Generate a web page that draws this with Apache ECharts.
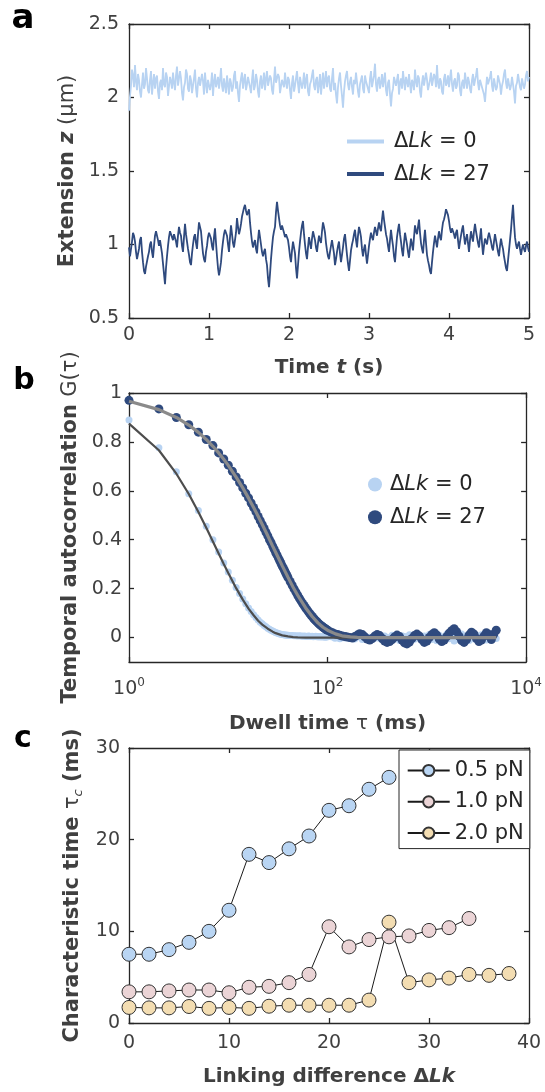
<!DOCTYPE html>
<html>
<head>
<meta charset="utf-8">
<script src="https://cdn.jsdelivr.net/npm/echarts@6.0.0/dist/echarts.min.js"></script>
<style>
  html, body { margin: 0; padding: 0; background: #fff; }
  #root { width: 545px; height: 1092px; }
</style>
</head>
<body>
<div id="root"></div>
<script>
// ---- panel a: extension traces, one sample every 12.5 ms ----
const timeStep = 0.0125;
const zLk0 = [
  1.91, 2.01, 2.08, 2.19, 2.15, 2.07, 2.22, 2.11, 2.05, 2.16, 2.12, 2.04, 2.00, 2.09, 2.17, 2.06, 2.09, 2.20, 2.13, 2.05,
  2.03, 2.12, 2.18, 2.02, 2.10, 2.16, 2.06, 2.13, 2.15, 2.04, 1.99, 2.10, 2.12, 2.05, 2.20, 2.09, 2.07, 2.17, 2.14, 2.01,
  2.02, 2.14, 2.11, 2.06, 2.17, 2.10, 2.05, 2.15, 2.21, 2.08, 2.09, 2.18, 2.13, 2.03, 1.98, 2.07, 2.10, 2.19, 2.16, 2.06,
  2.04, 2.15, 2.12, 2.03, 2.08, 2.13, 2.19, 2.06, 2.00, 2.10, 2.14, 2.08, 2.07, 2.16, 2.11, 2.02, 2.17, 2.09, 2.03, 2.12,
  2.13, 2.05, 2.09, 2.17, 2.01, 2.11, 2.16, 2.07, 2.10, 2.14, 2.06, 2.12, 2.20, 2.08, 2.04, 2.13, 2.12, 2.03, 2.15, 2.09,
  2.02, 2.13, 2.10, 2.04, 2.07, 2.15, 2.18, 2.06, 2.11, 2.03, 1.97, 2.08, 2.13, 2.17, 2.06, 2.12, 2.16, 2.05, 2.09, 2.14,
  2.14, 2.07, 2.03, 2.12, 2.19, 2.05, 2.08, 2.16, 2.12, 2.04, 2.00, 2.11, 2.15, 2.06, 2.10, 2.17, 2.05, 2.13, 2.18, 2.08,
  2.07, 2.15, 2.13, 2.05, 2.02, 2.12, 2.21, 2.10, 2.09, 2.16, 2.14, 2.03, 2.04, 2.12, 2.11, 2.07, 2.17, 2.10, 2.06, 2.14,
  2.12, 2.05, 1.99, 2.10, 2.15, 2.04, 2.08, 2.13, 2.18, 2.09, 2.03, 2.14, 2.13, 2.06, 2.10, 2.17, 2.06, 2.12, 2.16, 2.04,
  2.01, 2.09, 2.11, 2.15, 2.19, 2.08, 2.05, 2.12, 2.14, 2.03, 2.09, 2.16, 2.02, 2.10, 2.17, 2.06, 2.12, 2.18, 2.07, 2.13,
  2.15, 2.06, 2.04, 2.13, 2.20, 2.05, 2.10, 2.02, 1.96, 2.07, 2.13, 2.17, 2.08, 2.01, 1.93, 2.04, 2.11, 2.15, 2.18, 2.09,
  2.05, 2.11, 2.14, 2.07, 2.02, 2.12, 2.09, 2.17, 2.16, 2.04, 2.00, 2.09, 2.12, 2.15, 2.06, 2.03, 2.15, 2.11, 2.10, 2.06,
  2.03, 2.13, 2.18, 2.07, 2.08, 2.15, 2.23, 2.09, 2.04, 2.12, 2.14, 2.06, 2.10, 2.16, 2.07, 2.12, 2.17, 2.05, 2.01, 2.10,
  2.12, 2.02, 1.94, 2.03, 2.06, 2.14, 2.15, 2.08, 2.09, 2.16, 2.02, 2.10, 2.13, 2.06, 2.18, 2.11, 2.05, 2.14, 2.11, 2.07,
  2.16, 2.09, 2.03, 2.12, 2.10, 2.05, 2.19, 2.11, 2.07, 2.15, 2.13, 2.04, 2.00, 2.10, 2.15, 2.08, 2.08, 2.17, 2.12, 2.05,
  2.04, 2.12, 2.17, 2.08, 2.09, 2.16, 2.14, 2.07, 2.22, 2.10, 2.06, 2.13, 2.11, 2.04, 2.02, 2.13, 2.16, 2.08, 2.10, 2.15,
  2.07, 2.13, 2.19, 2.09, 2.04, 2.11, 2.13, 2.06, 2.08, 2.17, 2.15, 2.05, 2.01, 2.10, 2.12, 2.06, 2.17, 2.11, 2.06, 2.14,
  2.11, 2.06, 2.03, 2.12, 2.16, 2.08, 2.09, 2.15, 2.20, 2.10, 2.05, 2.12, 2.13, 2.07, 2.08, 2.02, 1.97, 2.06, 2.14, 2.09,
  2.10, 2.14, 2.18, 2.08, 2.04, 2.13, 2.12, 2.05, 2.07, 2.15, 2.16, 2.09, 2.02, 2.08, 2.11, 2.16, 2.19, 2.10, 2.06, 2.13,
  2.13, 2.05, 2.08, 2.14, 2.15, 2.04, 1.96, 2.08, 2.10, 2.16, 2.17, 2.07, 2.05, 2.13, 2.12, 2.06, 2.09, 2.15, 2.18, 2.11,
  2.14
];
const zLk27 = [
  0.98, 0.92, 0.93, 1.02, 1.08, 1.06, 1.02, 0.95, 0.90, 0.91, 0.97, 1.03, 1.05, 0.95, 0.88, 0.82, 0.80, 0.85, 0.86, 0.92,
  0.95, 1.00, 1.02, 0.95, 0.91, 0.99, 1.06, 1.09, 1.10, 1.03, 0.99, 1.03, 1.04, 0.94, 0.87, 0.80, 0.73, 0.84, 0.92, 0.99,
  1.05, 1.09, 1.10, 1.05, 1.03, 1.07, 1.08, 1.02, 0.98, 1.06, 1.12, 1.08, 1.06, 0.99, 0.95, 1.05, 1.14, 1.07, 1.02, 0.97,
  0.93, 0.88, 0.86, 0.94, 1.00, 1.05, 1.07, 1.01, 0.97, 1.07, 1.15, 1.12, 1.09, 1.01, 0.94, 0.90, 0.88, 0.95, 0.99, 1.05,
  1.08, 1.07, 1.04, 0.99, 0.96, 1.05, 1.11, 1.01, 0.92, 0.84, 0.79, 0.83, 0.88, 0.96, 1.02, 1.07, 1.10, 1.09, 1.06, 1.00,
  0.95, 1.05, 1.13, 1.07, 1.01, 0.98, 0.97, 1.08, 1.18, 1.12, 1.07, 1.10, 1.14, 1.19, 1.22, 1.25, 1.27, 1.23, 1.20, 1.22,
  1.24, 1.15, 1.08, 1.02, 0.98, 1.01, 1.03, 0.97, 0.94, 1.03, 1.10, 1.05, 1.00, 0.95, 0.92, 0.95, 0.97, 0.90, 0.86, 0.77,
  0.71, 0.80, 0.90, 0.98, 1.05, 1.09, 1.12, 1.22, 1.29, 1.23, 1.18, 1.13, 1.10, 1.13, 1.14, 1.08, 1.05, 1.07, 1.08, 1.03,
  0.98, 0.92, 0.88, 0.96, 1.02, 0.98, 0.94, 0.84, 0.77, 0.86, 0.95, 1.02, 1.08, 1.13, 1.16, 1.07, 1.00, 0.94, 0.90, 0.98,
  1.05, 1.01, 0.97, 1.04, 1.09, 1.06, 1.03, 0.98, 0.95, 1.01, 1.06, 1.03, 1.01, 1.09, 1.15, 1.12, 1.08, 1.01, 0.96, 0.92,
  0.90, 0.95, 0.99, 1.03, 1.04, 0.94, 0.86, 0.90, 0.95, 0.99, 1.02, 0.94, 0.88, 0.93, 0.98, 1.04, 1.07, 1.00, 0.93, 0.87,
  0.82, 0.89, 0.96, 1.00, 1.03, 1.07, 1.10, 1.03, 0.98, 1.06, 1.12, 1.09, 1.05, 0.97, 0.92, 0.97, 1.00, 0.93, 0.87, 0.93,
  0.99, 1.04, 1.08, 1.05, 1.03, 1.08, 1.12, 1.09, 1.06, 1.11, 1.15, 1.11, 1.09, 1.17, 1.23, 1.17, 1.12, 1.07, 1.04, 0.99,
  0.95, 1.03, 1.10, 1.04, 0.99, 0.92, 0.88, 0.97, 1.05, 1.10, 1.14, 1.07, 1.02, 0.96, 0.92, 1.01, 1.08, 1.04, 1.00, 0.95,
  0.91, 0.98, 1.04, 1.00, 0.96, 1.05, 1.13, 1.09, 1.07, 1.12, 1.17, 1.08, 1.01, 0.97, 0.94, 1.03, 1.10, 1.01, 0.93, 0.89,
  0.86, 0.82, 0.80, 0.88, 0.95, 1.01, 1.06, 1.02, 0.98, 1.04, 1.09, 1.05, 1.03, 1.10, 1.15, 1.17, 1.20, 1.24, 1.25, 1.20,
  1.16, 1.11, 1.08, 1.11, 1.12, 1.07, 1.04, 1.08, 1.10, 1.03, 0.97, 1.02, 1.06, 1.10, 1.13, 1.06, 1.00, 1.04, 1.07, 1.01,
  0.95, 1.03, 1.09, 1.05, 1.02, 1.09, 1.14, 1.09, 1.05, 1.01, 0.98, 1.05, 1.11, 1.01, 0.93, 0.99, 1.04, 1.02, 1.00, 1.05,
  1.08, 1.05, 1.02, 0.98, 0.96, 1.02, 1.07, 1.03, 0.99, 0.95, 0.92, 0.99, 1.04, 1.00, 0.97, 0.92, 0.88, 0.84, 0.82, 0.89,
  0.96, 1.03, 1.10, 1.19, 1.27, 1.15, 1.05, 1.00, 0.97, 1.00, 1.02, 0.97, 0.93, 0.97, 1.00, 0.97, 0.95, 0.99, 1.02, 0.98,
  0.95
];

// ---- panel b: autocorrelation vs lag ----
const lagMs = [
  1, 2, 3, 4, 5, 6, 7, 8, 9, 10,
  11, 12, 13, 14, 15, 16, 17, 18, 19, 20,
  21, 22, 23, 24, 25, 26, 27, 28, 29, 30,
  31, 32, 33, 34, 35, 36, 37, 38, 39, 40,
  42, 44, 46, 48, 50, 52, 54, 56, 58, 60,
  62, 64, 66, 68, 70, 72, 74, 76, 78, 80,
  82, 84, 86, 88, 90, 92, 94, 96, 98, 100,
  106, 112, 119, 126, 133, 141, 150, 158, 168, 178,
  188, 200, 211, 224, 237, 251, 266, 282, 299, 316,
  335, 355, 376, 398, 422, 447, 473, 501, 531, 562,
  596, 631, 668, 708, 750, 794, 841, 891, 944, 1000,
  1059, 1122, 1189, 1259, 1334, 1413, 1496, 1585, 1679, 1778,
  1884, 1995, 2113, 2239, 2371, 2512, 2661, 2818, 2985, 3162,
  3350, 3548, 3758, 3981, 4217, 4467, 4732, 5000
];
const gLk0 = [
  0.89, 0.776, 0.678, 0.588, 0.52, 0.455, 0.40, 0.35, 0.305, 0.268,
  0.234, 0.205, 0.18, 0.158, 0.138, 0.121, 0.106, 0.093, 0.082, 0.072,
  0.063, 0.056, 0.049, 0.044, 0.038, 0.034, 0.030, 0.027, 0.024, 0.021,
  0.019, 0.017, 0.015, 0.013, 0.012, 0.011, 0.010, 0.010, 0.009, 0.009,
  0.008, 0.008, 0.007, 0.007, 0.006, 0.007, 0.006, 0.005, 0.006, 0.005,
  0.004, 0.006, 0.005, 0.004, 0.005, 0.003, 0.004, 0.005, 0.003, 0.004,
  0.002, 0.004, 0.003, 0.002, 0.004, 0.003, 0.001, 0.003, 0.002, 0.003,
  0.004, 0.002, -0.003, 0.001, -0.005, 0.003, -0.002, 0.005, -0.004, 0.000,
  -0.006, 0.004, 0.002, -0.008, 0.006, -0.003, 0.001, -0.007, 0.008, -0.002,
  0.003, -0.010, 0.006, 0.000, -0.005, 0.009, -0.004, 0.002, -0.012, 0.007,
  0.004, -0.009, 0.011, -0.003, -0.007, 0.010, 0.001, -0.011, 0.006, -0.004,
  0.012, -0.008, 0.003, -0.013, 0.009, 0.002, -0.010, 0.013, -0.005, 0.007,
  -0.014, 0.010, -0.002, 0.014, -0.009, 0.004, -0.012, 0.015, -0.006, 0.008,
  -0.015, 0.011, 0.003, -0.010, 0.016, -0.007, 0.012, -0.004
];
const gLk27 = [
  0.97, 0.935, 0.90, 0.87, 0.84, 0.81, 0.785, 0.755, 0.73, 0.705,
  0.68, 0.657, 0.634, 0.612, 0.59, 0.571, 0.55, 0.532, 0.514, 0.495,
  0.478, 0.462, 0.446, 0.43, 0.416, 0.40, 0.388, 0.374, 0.361, 0.348,
  0.337, 0.325, 0.314, 0.303, 0.292, 0.283, 0.273, 0.263, 0.254, 0.245,
  0.229, 0.214, 0.199, 0.186, 0.173, 0.161, 0.150, 0.140, 0.131, 0.122,
  0.114, 0.106, 0.099, 0.092, 0.086, 0.080, 0.075, 0.069, 0.065, 0.060,
  0.056, 0.052, 0.049, 0.046, 0.042, 0.040, 0.037, 0.034, 0.032, 0.030,
  0.024, 0.020, 0.015, 0.012, 0.009, 0.006, 0.004, 0.002, 0.000, -0.002,
  0.004, 0.010, 0.016, 0.012, 0.003, -0.006, -0.010, -0.004, 0.006, 0.012,
  0.008, -0.004, -0.014, -0.020, -0.016, -0.008, 0.002, 0.010, 0.004, -0.010,
  -0.022, -0.026, -0.018, -0.004, 0.008, 0.014, 0.006, -0.008, -0.020, -0.014,
  0.000, 0.012, 0.020, 0.010, -0.006, -0.016, -0.010, 0.004, 0.018, 0.028,
  0.036, 0.024, 0.006, -0.012, -0.020, -0.008, 0.010, 0.022, 0.014, -0.004,
  -0.016, -0.010, 0.006, 0.020, 0.012, -0.008, 0.014, 0.030
];
const fitLagMs = [
  1, 2, 3, 4, 5, 6, 7, 8, 9, 10,
  12, 14, 16, 18, 20, 22, 25, 28, 30,
  35, 40, 45, 50, 60, 70, 80, 90, 100,
  120, 140, 170, 200, 300, 500, 1000, 2000, 5000
];
const fitLk0 = [
  0.875, 0.766, 0.670, 0.587, 0.513, 0.449, 0.393, 0.344, 0.301, 0.264,
  0.202, 0.155, 0.118, 0.091, 0.069, 0.053, 0.036, 0.024, 0.018,
  0.009, 0.005, 0.002, 0.001, 0, 0, 0, 0, 0,
  0, 0, 0, 0, 0, 0, 0, 0, 0
];
const fitLk27 = [
  0.966, 0.932, 0.900, 0.869, 0.839, 0.810, 0.782, 0.755, 0.729, 0.704,
  0.656, 0.612, 0.570, 0.532, 0.496, 0.462, 0.416, 0.374, 0.349,
  0.293, 0.246, 0.206, 0.173, 0.122, 0.086, 0.060, 0.042, 0.030,
  0.015, 0.007, 0.003, 0.001, 0, 0, 0, 0, 0
];

// ---- panel c: characteristic time vs linking difference ----
const linkingDiff = [0, 2, 4, 6, 8, 10, 12, 14, 16, 18, 20, 22, 24, 26, 28, 30, 32, 34, 36, 38];
const tauC05 = [7.5, 7.5, 8.0, 8.8, 10.0, 12.3, 18.4, 17.5, 19.0, 20.4, 23.2, 23.7, 25.5, 26.8];
const tauC10 = [3.4, 3.4, 3.5, 3.6, 3.6, 3.3, 3.9, 4.0, 4.4, 5.3, 10.5, 8.3, 9.1, 9.4, 9.5, 10.1, 10.4, 11.4];
const tauC20 = [1.7, 1.65, 1.65, 1.8, 1.6, 1.7, 1.6, 1.83, 1.94, 1.94, 1.94, 1.94, 2.5, 11.0, 4.4, 4.7, 4.9, 5.3, 5.2, 5.4];

const FONT = 'DejaVu Sans';
const AX = '#262626';
const LBL = '#404040';
const LIGHT = '#b8d3f2';
const NAVY = '#2f4a7e';

function makeTitleRich(size) {
  return {
    b: { fontFamily: FONT, fontSize: size, fontWeight: 'bold', color: LBL, lineHeight: 24 },
    bi: { fontFamily: FONT, fontSize: size, fontWeight: 'bold', fontStyle: 'italic', color: LBL, lineHeight: 24 },
    r: { fontFamily: FONT, fontSize: size, fontWeight: 'normal', color: LBL, lineHeight: 24 },
    sub: { fontFamily: FONT, fontSize: 13, fontStyle: 'italic', color: LBL, lineHeight: 14, verticalAlign: 'bottom' }
  };
}
const xTitleRich = makeTitleRich(20);
const yTitleRich = makeTitleRich(21);
const lkRich = {
  r: { fontFamily: FONT, fontSize: 21, color: AX, lineHeight: 21 },
  i: { fontFamily: FONT, fontSize: 21, fontStyle: 'italic', color: AX, lineHeight: 21 }
};
const legendNames = {
  a0: '{r|Δ}{i|Lk}{r| = 0}', a27: '{r|Δ}{i|Lk}{r| = 27}',
  b0: '{r|Δ}{i|Lk}{r| = 0}', b27: '{r|Δ}{i|Lk}{r| = 27}',
  c05: '0.5 pN', c10: '1.0 pN', c20: '2.0 pN'
};

const lineStyle = { color: AX, width: 1.3 };
const tick = { inside: true, length: 5, lineStyle: lineStyle };
const tickFont = { fontFamily: FONT, fontSize: 19, color: LBL };

function mainX(grid, extra) {
  return Object.assign({
    gridIndex: grid, type: 'value', position: 'bottom',
    axisLine: { onZero: false, lineStyle: lineStyle },
    axisTick: tick, splitLine: { show: false },
    nameLocation: 'middle', nameTextStyle: { rich: xTitleRich }
  }, extra);
}
function mirrorX(grid, extra) {
  return Object.assign({
    gridIndex: grid, type: 'value', position: 'top',
    axisLine: { onZero: false, lineStyle: lineStyle },
    axisTick: tick, axisLabel: { show: false }, splitLine: { show: false }
  }, extra);
}
function mainY(grid, extra) {
  return Object.assign({
    gridIndex: grid, type: 'value', position: 'left',
    axisLine: { show: true, onZero: false, lineStyle: lineStyle },
    axisTick: tick, splitLine: { show: false },
    nameLocation: 'middle', nameTextStyle: { rich: yTitleRich }
  }, extra);
}
function mirrorY(grid, extra) {
  return Object.assign({
    gridIndex: grid, type: 'value', position: 'right',
    axisLine: { show: true, onZero: false, lineStyle: lineStyle },
    axisTick: tick, axisLabel: { show: false }, splitLine: { show: false }
  }, extra);
}

const gTicks = [0, 0.2, 0.4, 0.6, 0.8, 1];
const logLabel = {
  margin: 15,
  formatter: v => '{b|10}{s|' + Math.round(Math.log10(v)) + '}',
  rich: {
    b: { fontFamily: FONT, fontSize: 19, color: LBL, lineHeight: 24 },
    s: { fontFamily: FONT, fontSize: 12, color: LBL, lineHeight: 14, verticalAlign: 'top' }
  }
};

const chart = echarts.init(document.getElementById('root'), null, { renderer: 'canvas' });
chart.setOption({
  animation: false,
  backgroundColor: '#fff',
  grid: [
    { left: 129, top: 24, width: 400, height: 294 },
    { left: 129, top: 393, width: 400, height: 269 },
    { left: 129, top: 748, width: 400, height: 275 }
  ],
  xAxis: [
    mainX(0, { min: 0, max: 5, interval: 1, axisLabel: Object.assign({ margin: 8 }, tickFont),
      name: '{b|Time }{bi|t}{b| (s)}', nameGap: 38 }),
    mirrorX(0, { min: 0, max: 5, interval: 1 }),
    mainX(1, { type: 'log', logBase: 100, min: 1, max: 10000, axisLabel: logLabel,
      name: '{b|Dwell time }{r|τ}{b| (ms)}', nameGap: 50 }),
    mirrorX(1, { type: 'log', logBase: 100, min: 1, max: 10000 }),
    mainX(2, { min: 0, max: 40, interval: 10, axisLabel: Object.assign({ margin: 11 }, tickFont),
      name: '{b|Linking difference Δ}{bi|Lk}', nameGap: 42 }),
    mirrorX(2, { min: 0, max: 40, interval: 10 })
  ],
  yAxis: [
    mainY(0, { min: 0.5, max: 2.5, interval: 0.5, axisLabel: Object.assign({ margin: 10 }, tickFont),
      name: '{b|Extension }{bi|z}{r| (μm)}', nameGap: 43 }),
    mirrorY(0, { min: 0.5, max: 2.5, interval: 0.5 }),
    mainY(1, { min: -0.1, max: 1,
      axisTick: Object.assign({ customValues: gTicks }, tick),
      axisLabel: Object.assign({ margin: 7, customValues: gTicks }, tickFont),
      name: '{b|Temporal autocorrelation }{r|G(τ)}', nameGap: 43 }),
    mirrorY(1, { min: -0.1, max: 1, axisTick: Object.assign({ customValues: gTicks }, tick) }),
    mainY(2, { min: 0, max: 30, interval: 10, axisLabel: Object.assign({ margin: 9 }, tickFont),
      name: '{b|Characteristic time }{r|τ}{sub|c}{b| (ms)}', nameGap: 43 }),
    mirrorY(2, { min: 0, max: 30, interval: 10 })
  ],
  legend: [
    { data: ['a0', 'a27'], orient: 'vertical', left: 347, top: 131, padding: 0,
      icon: 'rect', itemWidth: 37, itemHeight: 4, itemGap: 11.6, selectedMode: false,
      formatter: n => legendNames[n], textStyle: { padding: [0, 0, 0, 5], rich: lkRich } },
    { data: ['b0', 'b27'], orient: 'vertical', left: 368, top: 474, padding: 0,
      icon: 'circle', itemWidth: 14, itemHeight: 14, itemGap: 11.7, selectedMode: false,
      formatter: n => legendNames[n], textStyle: { padding: [0, 0, 0, 3], rich: lkRich } },
    { data: ['c05', 'c10', 'c20'], orient: 'vertical', left: 399, top: 750,
      padding: [10, 6, 5, 7.7], borderColor: AX, borderWidth: 1, backgroundColor: '#fff',
      itemWidth: 42, itemHeight: 14, itemGap: 10.3, selectedMode: false,
      formatter: n => legendNames[n],
      textStyle: { fontFamily: FONT, fontSize: 21, color: AX, lineHeight: 21 } }
  ],
  graphic: [
    { type: 'text', style: { x: 23, y: 19, text: 'a', font: 'bold 34px "DejaVu Sans"', fill: '#000', textAlign: 'center', textVerticalAlign: 'middle' } },
    { type: 'text', style: { x: 24, y: 381, text: 'b', font: 'bold 30px "DejaVu Sans"', fill: '#000', textAlign: 'center', textVerticalAlign: 'middle' } },
    { type: 'text', style: { x: 23, y: 739, text: 'c', font: 'bold 30px "DejaVu Sans"', fill: '#000', textAlign: 'center', textVerticalAlign: 'middle' } }
  ],
  series: [
    { name: 'a0', type: 'line', xAxisIndex: 0, yAxisIndex: 0, showSymbol: false, color: LIGHT,
      lineStyle: { color: LIGHT, width: 1.8 }, data: zLk0.map((z, i) => [i * timeStep, z]) },
    { name: 'a27', type: 'line', xAxisIndex: 0, yAxisIndex: 0, showSymbol: false, color: NAVY,
      lineStyle: { color: NAVY, width: 1.8 }, data: zLk27.map((z, i) => [i * timeStep, z]) },

    { name: 'b0', type: 'scatter', xAxisIndex: 2, yAxisIndex: 2, symbolSize: 7,
      itemStyle: { color: LIGHT, opacity: 1 }, data: lagMs.map((t, i) => [t, gLk0[i]]) },
    { name: 'b27', type: 'scatter', xAxisIndex: 2, yAxisIndex: 2, symbolSize: 9,
      itemStyle: { color: NAVY, opacity: 1 }, data: lagMs.map((t, i) => [t, gLk27[i]]) },
    { name: 'fit0', type: 'line', xAxisIndex: 2, yAxisIndex: 2, showSymbol: false,
      lineStyle: { color: '#4d4d4d', width: 2.2 }, data: fitLagMs.map((t, i) => [t, fitLk0[i]]) },
    { name: 'fit27', type: 'line', xAxisIndex: 2, yAxisIndex: 2, showSymbol: false,
      lineStyle: { color: '#8a8a8a', width: 3.2 }, data: fitLagMs.map((t, i) => [t, fitLk27[i]]) },

    { name: 'c05', type: 'line', xAxisIndex: 4, yAxisIndex: 4, symbol: 'circle', symbolSize: 14,
      itemStyle: { color: '#b9d5f3', borderColor: '#333', borderWidth: 1 },
      lineStyle: { color: '#1a1a1a', width: 1 }, data: tauC05.map((v, i) => [linkingDiff[i], v]) },
    { name: 'c10', type: 'line', xAxisIndex: 4, yAxisIndex: 4, symbol: 'circle', symbolSize: 14,
      itemStyle: { color: '#ebd4d6', borderColor: '#333', borderWidth: 1 },
      lineStyle: { color: '#1a1a1a', width: 1 }, data: tauC10.map((v, i) => [linkingDiff[i], v]) },
    { name: 'c20', type: 'line', xAxisIndex: 4, yAxisIndex: 4, symbol: 'circle', symbolSize: 14,
      itemStyle: { color: '#f3ddb2', borderColor: '#333', borderWidth: 1 },
      lineStyle: { color: '#1a1a1a', width: 1 }, data: tauC20.map((v, i) => [linkingDiff[i], v]) }
  ]
});
</script>
</body>
</html>
